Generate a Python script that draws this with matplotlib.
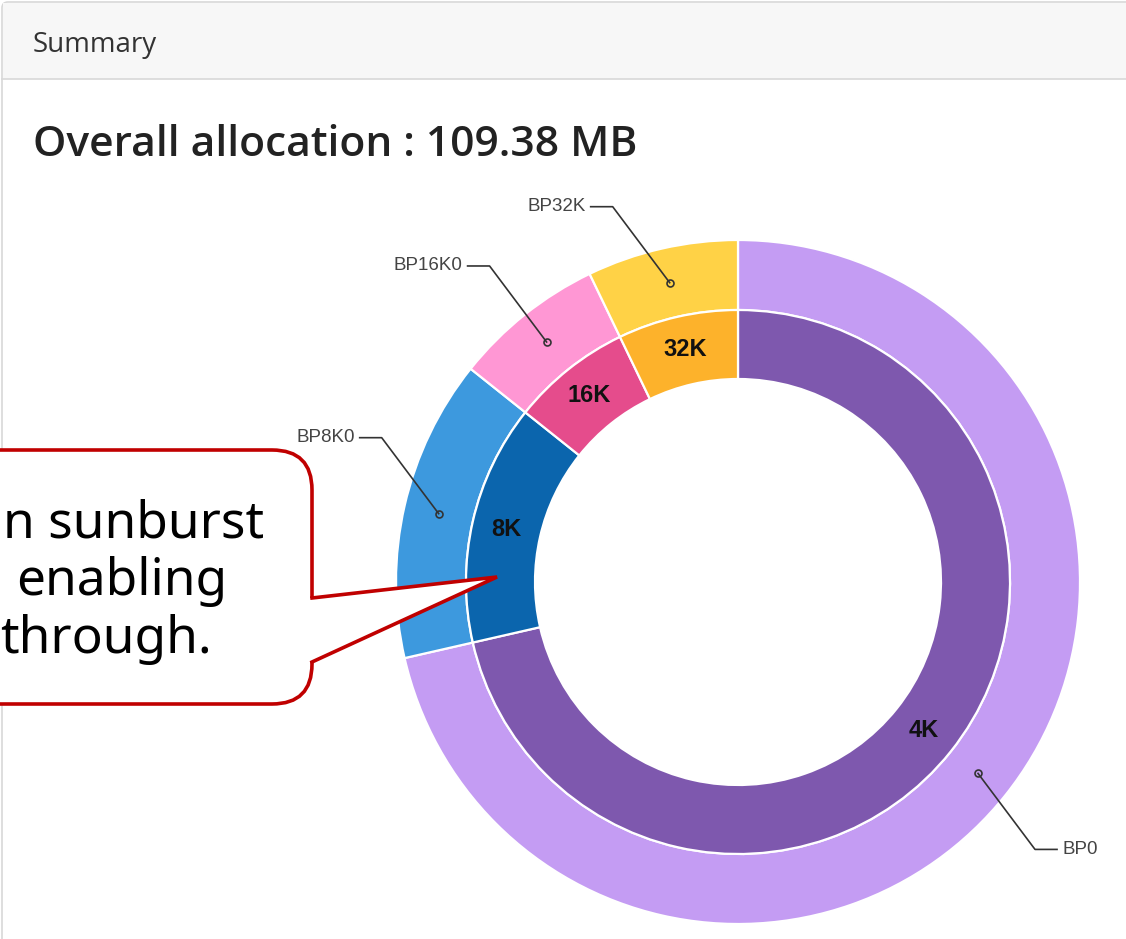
import numpy as np
import matplotlib
matplotlib.use("Agg")
import matplotlib.pyplot as plt
from matplotlib.patches import FancyBboxPatch, Polygon, Rectangle

# pamiec przydzielona w poszczegolnych pulach buforow (MB)
page_sizes = ["4K", "8K", "16K", "32K"]
pools = ["BP0", "BP8K0", "BP16K0", "BP32K"]
alloc_mb = [78.125, 15.625, 7.8125, 7.8125]

inner_colors = ["#7E58AE", "#0B65AD", "#E54C8C", "#FDB22B"]
outer_colors = ["#C49CF3", "#3D99DE", "#FF97D4", "#FFD246"]

W, H = 1126, 939
fig = plt.figure(figsize=(W / 100, H / 100), dpi=100)

# tlo panelu w pikselach
bg = fig.add_axes([0, 0, 1, 1], zorder=0)
bg.set_xlim(0, W)
bg.set_ylim(H, 0)
bg.axis("off")
bg.add_patch(FancyBboxPatch((2, 2), W + 40, H + 40,
                            boxstyle="round,pad=0,rounding_size=6",
                            facecolor="white", edgecolor="#D8D8D8", lw=1.2))
bg.add_patch(Rectangle((3, 3), W, 76, facecolor="#F7F7F7", edgecolor="none"))
bg.plot([2, W], [79, 79], color="#D8D8D8", lw=1.2)
bg.text(33, 52, "Summary", fontsize=20, family="Open Sans",
        color="#333333", va="baseline", ha="left")
total = sum(alloc_mb)
bg.text(33, 156, f"Overall allocation : {total:.2f} MB", fontsize=30.6,
        family="Open Sans", weight="semibold", color="#222222",
        va="baseline", ha="left")

# wykres sunburst - dwa pierscienie
cx, cy, R = 738, 582, 342
ax = fig.add_axes([(cx - 400) / W, (H - cy - 400) / H, 800 / W, 800 / H], zorder=2)
wp = dict(edgecolor="white", linewidth=1.6)
ax.pie(alloc_mb, radius=R, startangle=90, counterclock=False,
       colors=outer_colors, wedgeprops=dict(width=70, **wp))
ax.pie(alloc_mb, radius=272, startangle=90, counterclock=False,
       colors=inner_colors, wedgeprops=dict(width=69, **wp))
ax.set_xlim(-400, 400)
ax.set_ylim(-400, 400)
ax.set_aspect("equal")
ax.axis("off")

fracs = np.array(alloc_mb) / total
ends = np.cumsum(fracs) * 360
mids = ends - fracs * 360 / 2
for name, pool, a in zip(page_sizes, pools, mids):
    t = np.radians(a)
    # etykieta na wewnetrznym pierscieniu
    ax.text(238 * np.sin(t), 238 * np.cos(t), name, fontsize=17,
            family="Liberation Sans", weight="bold", color="#111111",
            ha="center", va="center")
    # znacznik i linia do etykiety puli
    mx, my = 307 * np.sin(t), 307 * np.cos(t)
    sx, sy = np.sign(mx), np.sign(my)
    ex, ey = mx + sx * 57, my + sy * 76
    hx = ex + sx * 22
    ax.plot([mx, ex, hx], [my, ey, ey], color="#333333", lw=1.2,
            clip_on=False, zorder=5)
    ax.plot(mx, my, "o", ms=5, mfc="none", mec="#333333", mew=1.2,
            clip_on=False, zorder=5)
    ax.text(hx + sx * 5, ey, pool, fontsize=13.5, family="Liberation Sans",
            color="#444444", ha="left" if sx > 0 else "right", va="center")

# dymek z opisem
fg = fig.add_axes([0, 0, 1, 1], zorder=3)
fg.set_xlim(0, W)
fg.set_ylim(H, 0)
fg.axis("off")
fg.patch.set_alpha(0)
red = "#C00000"
fg.add_patch(FancyBboxPatch((-80, 450), 392, 254,
                            boxstyle="round,pad=0,rounding_size=40",
                            facecolor="white", edgecolor=red, lw=2.6))
fg.add_patch(Polygon([(300, 598), (313, 598), (497, 577), (313, 662), (300, 662)],
                     closed=True, facecolor="white", edgecolor="none"))
fg.plot([312, 497, 312], [598, 577, 662], color=red, lw=2.6,
        solid_joinstyle="miter")
for txt, x, y in [("n sunburst", 264, 537), ("enabling", 227, 595),
                  ("through.", 212, 653)]:
    fg.text(x, y, txt, fontsize=37, family="Noto Sans", color="black",
            ha="right", va="baseline")

fig.savefig("out.png", dpi=100)
